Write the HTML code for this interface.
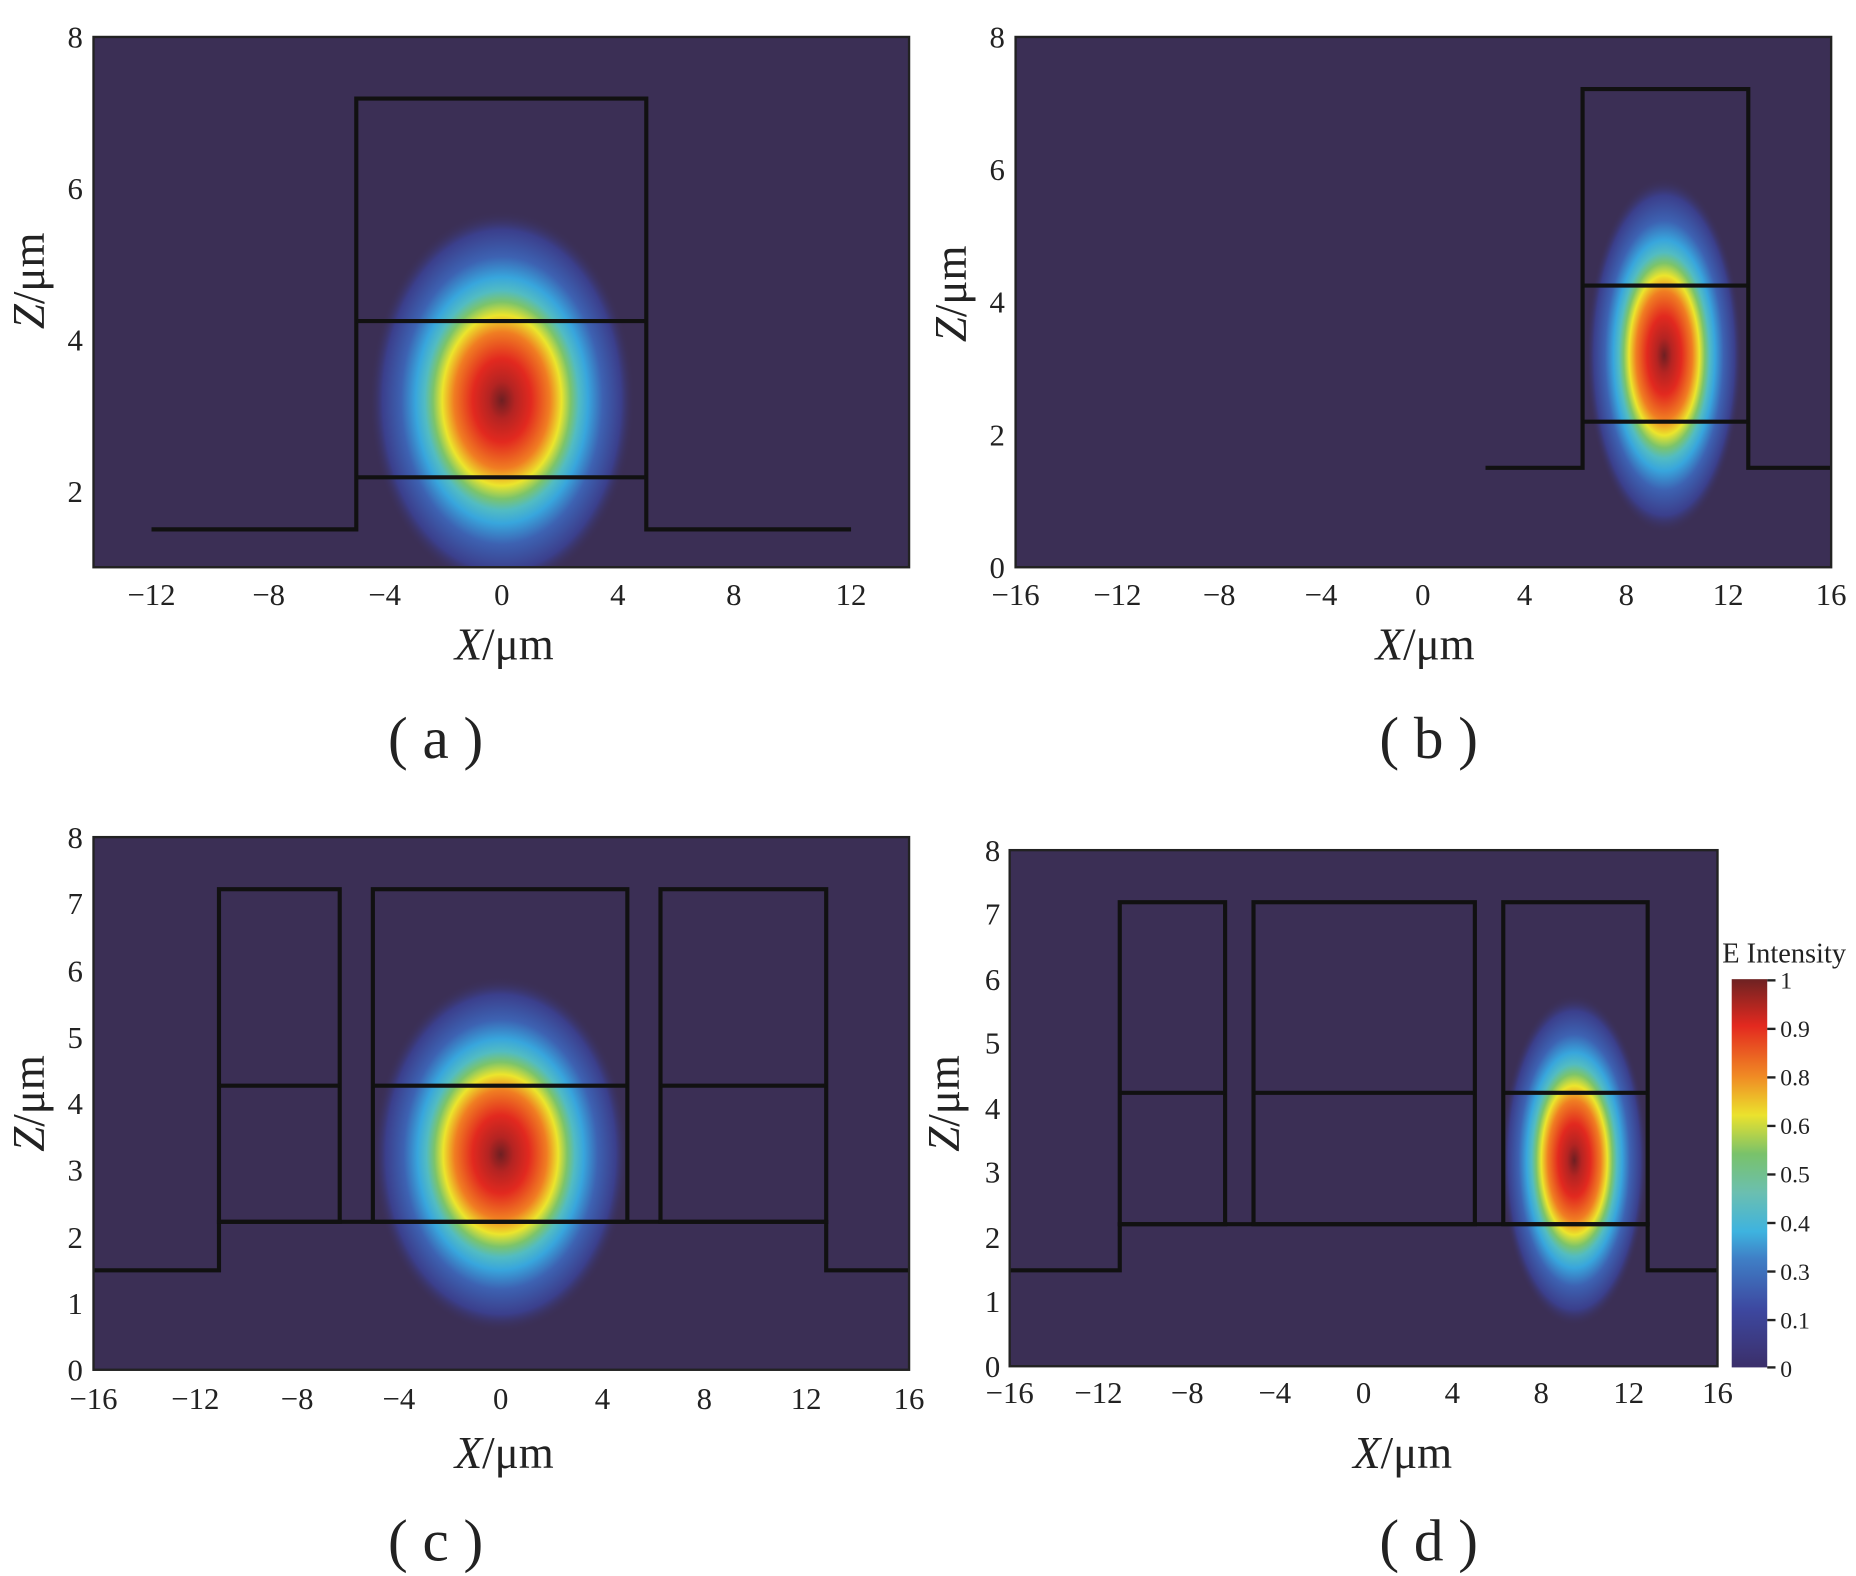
<!DOCTYPE html>
<html><head><meta charset="utf-8"><style>html,body{margin:0;padding:0;background:#fff}svg{display:block}</style></head><body>
<svg width="1856" height="1576" viewBox="0 0 1568 1331" xmlns="http://www.w3.org/2000/svg" font-family="Liberation Serif, serif">
<defs>
<radialGradient id="g">
<stop offset="0" stop-color="#6e1f22"/>
<stop offset="0.1" stop-color="#b52422"/>
<stop offset="0.22" stop-color="#e2291f"/>
<stop offset="0.36" stop-color="#f07d22"/>
<stop offset="0.45" stop-color="#ece52c"/>
<stop offset="0.52" stop-color="#7cc46a"/>
<stop offset="0.58" stop-color="#52bcc2"/>
<stop offset="0.65" stop-color="#38a6dd"/>
<stop offset="0.76" stop-color="#3d62b2"/>
<stop offset="0.9" stop-color="#3b3f8c"/>
<stop offset="1" stop-color="#3b2f56" stop-opacity="0"/>
</radialGradient>
<linearGradient id="cb" x1="0" y1="1" x2="0" y2="0">
<stop offset="0" stop-color="#3b2f6a"/><stop offset="0.15" stop-color="#3d48a0"/><stop offset="0.28" stop-color="#3f7fc6"/>
<stop offset="0.35" stop-color="#3eb3df"/><stop offset="0.45" stop-color="#6bbfb0"/><stop offset="0.55" stop-color="#79c26a"/>
<stop offset="0.65" stop-color="#ebe22d"/><stop offset="0.75" stop-color="#f08a24"/><stop offset="0.88" stop-color="#e3291f"/>
<stop offset="1" stop-color="#6e2222"/>
</linearGradient>
<clipPath id="ca"><rect x="79" y="31" width="689" height="448"/></clipPath>
<clipPath id="cbp"><rect x="858" y="31" width="689" height="448"/></clipPath>
<clipPath id="cc"><rect x="79" y="707" width="689" height="450"/></clipPath>
<clipPath id="cd"><rect x="853" y="718" width="598" height="436"/></clipPath>
</defs>
<g fill="#3b2f55">
<rect x="79" y="31" width="689" height="448"/>
<rect x="858" y="31" width="689" height="448"/>
<rect x="79" y="707" width="689" height="450"/>
<rect x="853" y="718" width="598" height="436"/>
</g>
<ellipse cx="424" cy="338" rx="112" ry="160" fill="url(#g)" clip-path="url(#ca)"/>
<ellipse cx="1406" cy="300" rx="66" ry="150" fill="url(#g)" clip-path="url(#cbp)"/>
<ellipse cx="423" cy="975" rx="108" ry="150" fill="url(#g)" clip-path="url(#cc)"/>
<ellipse cx="1330" cy="980" rx="62" ry="140" fill="url(#g)" clip-path="url(#cd)"/>
<g fill="none" stroke="#111" stroke-width="3.5">
<polyline points="128,447 301,447 301,83 546,83 546,447 719,447"/>
<line x1="301" y1="271" x2="546" y2="271"/><line x1="301" y1="403" x2="546" y2="403"/>
<polyline points="1255,395 1337,395 1337,75 1477,75 1477,395 1547,395"/>
<line x1="1337" y1="241" x2="1477" y2="241"/><line x1="1337" y1="356" x2="1477" y2="356"/>
<polyline points="79,1073 185,1073 185,1032 698,1032 698,1073 768,1073"/>
<rect x="185" y="751" width="102" height="281"/><rect x="315" y="751" width="215" height="281"/><rect x="558" y="751" width="140" height="281"/>
<line x1="185" y1="917" x2="287" y2="917"/><line x1="315" y1="917" x2="530" y2="917"/><line x1="558" y1="917" x2="698" y2="917"/>
<polyline points="853,1073 946,1073 946,1034 1392,1034 1392,1073 1451,1073"/>
<rect x="946" y="762" width="89" height="272"/><rect x="1059" y="762" width="187" height="272"/><rect x="1270" y="762" width="122" height="272"/>
<line x1="946" y1="923" x2="1035" y2="923"/><line x1="1059" y1="923" x2="1246" y2="923"/><line x1="1270" y1="923" x2="1392" y2="923"/>
</g>
<g fill="none" stroke="#222" stroke-width="2">
<rect x="79" y="31" width="689" height="448"/>
<rect x="858" y="31" width="689" height="448"/>
<rect x="79" y="707" width="689" height="450"/>
<rect x="853" y="718" width="598" height="436"/>
</g>
<g font-size="26" fill="#222" text-anchor="middle">
<text x="128" y="511">−12</text><text x="227" y="511">−8</text><text x="325" y="511">−4</text><text x="424" y="511">0</text><text x="522" y="511">4</text><text x="620" y="511">8</text><text x="719" y="511">12</text>
<text x="858" y="511">−16</text><text x="944" y="511">−12</text><text x="1030" y="511">−8</text><text x="1116" y="511">−4</text><text x="1202" y="511">0</text><text x="1288" y="511">4</text><text x="1374" y="511">8</text><text x="1460" y="511">12</text><text x="1547" y="511">16</text>
<text x="79" y="1190">−16</text><text x="165" y="1190">−12</text><text x="251" y="1190">−8</text><text x="337" y="1190">−4</text><text x="423" y="1190">0</text><text x="509" y="1190">4</text><text x="595" y="1190">8</text><text x="681" y="1190">12</text><text x="768" y="1190">16</text>
<text x="853" y="1185">−16</text><text x="928" y="1185">−12</text><text x="1003" y="1185">−8</text><text x="1077" y="1185">−4</text><text x="1152" y="1185">0</text><text x="1227" y="1185">4</text><text x="1302" y="1185">8</text><text x="1376" y="1185">12</text><text x="1451" y="1185">16</text>
</g>
<g font-size="26" fill="#222" text-anchor="end">
<text x="70" y="40">8</text><text x="70" y="168">6</text><text x="70" y="296">4</text><text x="70" y="424">2</text>
<text x="849" y="40">8</text><text x="849" y="152">6</text><text x="849" y="264">4</text><text x="849" y="376">2</text><text x="849" y="488">0</text>
<text x="70" y="716">8</text><text x="70" y="772">7</text><text x="70" y="829">6</text><text x="70" y="885">5</text><text x="70" y="941">4</text><text x="70" y="997">3</text><text x="70" y="1054">2</text><text x="70" y="1110">1</text><text x="70" y="1166">0</text>
<text x="845" y="727">8</text><text x="845" y="781">7</text><text x="845" y="836">6</text><text x="845" y="890">5</text><text x="845" y="945">4</text><text x="845" y="999">3</text><text x="845" y="1054">2</text><text x="845" y="1108">1</text><text x="845" y="1163">0</text>
</g>
<g font-size="38" fill="#222" text-anchor="middle">
<text x="426" y="557"><tspan font-style="italic">X</tspan>/μm</text>
<text x="1204" y="557"><tspan font-style="italic">X</tspan>/μm</text>
<text x="426" y="1240"><tspan font-style="italic">X</tspan>/μm</text>
<text x="1185" y="1240"><tspan font-style="italic">X</tspan>/μm</text>
<text transform="translate(37,237) rotate(-90)"><tspan font-style="italic">Z</tspan>/μm</text>
<text transform="translate(816,248) rotate(-90)"><tspan font-style="italic">Z</tspan>/μm</text>
<text transform="translate(37,932) rotate(-90)"><tspan font-style="italic">Z</tspan>/μm</text>
<text transform="translate(810,932) rotate(-90)"><tspan font-style="italic">Z</tspan>/μm</text>
</g>
<g font-size="50" fill="#222" text-anchor="middle">
<text x="368" y="640">( a )</text><text x="1207" y="640">( b )</text>
<text x="368" y="1318">( c )</text><text x="1207" y="1318">( d )</text>
</g>
<rect x="1463" y="827" width="30" height="328" fill="url(#cb)"/>
<text x="1455" y="813" font-size="24" fill="#222">E Intensity</text>
<g font-size="20" fill="#222">
<text x="1504" y="835">1</text><text x="1504" y="876">0.9</text><text x="1504" y="917">0.8</text><text x="1504" y="958">0.6</text><text x="1504" y="999">0.5</text><text x="1504" y="1040">0.4</text><text x="1504" y="1081">0.3</text><text x="1504" y="1122">0.1</text><text x="1504" y="1163">0</text>
</g>
<g stroke="#222" stroke-width="2">
<line x1="1493" y1="828" x2="1500" y2="828"/><line x1="1493" y1="869" x2="1500" y2="869"/><line x1="1493" y1="910" x2="1500" y2="910"/><line x1="1493" y1="951" x2="1500" y2="951"/><line x1="1493" y1="992" x2="1500" y2="992"/><line x1="1493" y1="1033" x2="1500" y2="1033"/><line x1="1493" y1="1074" x2="1500" y2="1074"/><line x1="1493" y1="1115" x2="1500" y2="1115"/><line x1="1493" y1="1155" x2="1500" y2="1155"/>
</g>
</svg>
</body></html>
